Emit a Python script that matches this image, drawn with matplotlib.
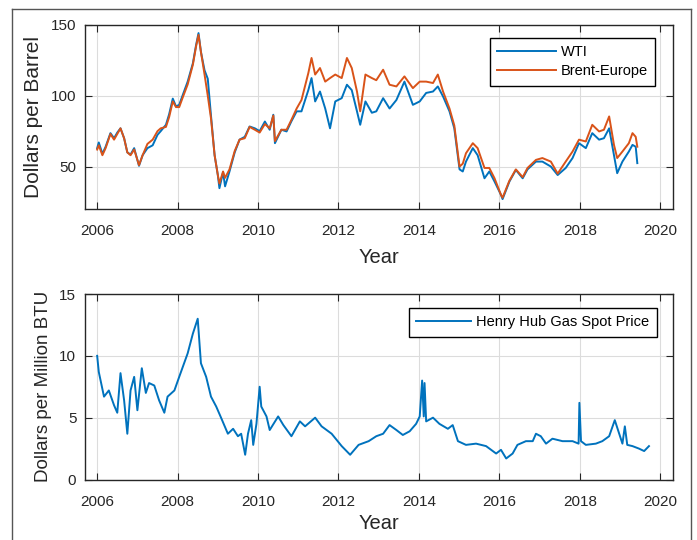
import matplotlib
matplotlib.use("Agg")
import matplotlib.pyplot as plt
from matplotlib.lines import Line2D

plt.rcParams['font.family'] = ['Liberation Sans', 'DejaVu Sans']

# ---------------- data ----------------
oil_year = [2006.00, 2006.04, 2006.13, 2006.21, 2006.33, 2006.42, 2006.50, 2006.58,
            2006.67, 2006.75, 2006.83, 2006.92, 2007.04, 2007.13, 2007.25, 2007.38,
            2007.50, 2007.58, 2007.71, 2007.79, 2007.88, 2007.96, 2008.04, 2008.13,
            2008.25, 2008.38, 2008.46, 2008.52, 2008.58, 2008.67, 2008.75, 2008.83,
            2008.92, 2009.00, 2009.04, 2009.13, 2009.18, 2009.29, 2009.42, 2009.54,
            2009.67, 2009.79, 2009.92, 2010.04, 2010.17, 2010.29, 2010.38, 2010.42,
            2010.58, 2010.71, 2010.83, 2010.96, 2011.08, 2011.25, 2011.33, 2011.42,
            2011.54, 2011.67, 2011.79, 2011.92, 2012.08, 2012.21, 2012.33, 2012.46,
            2012.54, 2012.67, 2012.83, 2012.94, 2013.11, 2013.27, 2013.44, 2013.64,
            2013.85, 2014.02, 2014.18, 2014.35, 2014.47, 2014.60, 2014.76, 2014.88,
            2015.01, 2015.09, 2015.17, 2015.34, 2015.46, 2015.63, 2015.75, 2015.88,
            2016.04, 2016.08, 2016.25, 2016.41, 2016.58, 2016.70, 2016.91, 2017.07,
            2017.28, 2017.45, 2017.65, 2017.82, 2017.98, 2018.15, 2018.31, 2018.48,
            2018.60, 2018.73, 2018.85, 2018.93, 2019.06, 2019.22, 2019.31, 2019.39,
            2019.43]

wti = [63, 67, 59, 64, 73.6, 70, 74, 77,
       70, 60, 58.5, 63, 50.5, 58, 63, 65,
       72.4, 75, 79.5, 87, 98, 92.5, 93.6, 100.7,
       110, 123, 136, 144.3, 131, 118, 112, 86,
       58, 44, 34.7, 46, 36, 46.5, 60, 69,
       71, 78.3, 77, 75, 81.8, 76, 86.6, 66.5,
       76, 74.8, 82, 89, 89, 104, 112.5, 96,
       103, 91, 77, 96, 98.3, 107.8, 104, 89,
       79.5, 96, 88, 89, 98.3, 91, 97, 110,
       93.6, 96, 102, 103, 106.6, 99.5, 89, 77,
       48, 46.5, 53.5, 63, 58, 41.7, 46.5, 39.4,
       30, 27, 39.4, 47.6, 41.7, 48, 53.5, 53.5,
       50, 44, 49, 56, 66.5, 63, 73.6, 69,
       70, 77, 58, 45.3, 53.5, 60.6, 65.3, 64,
       52.4]

brent = [62, 65, 58, 63, 73, 69, 73, 77,
         70, 60, 58, 62, 51, 58, 66, 69,
         75, 77, 78, 85, 96, 92, 92, 99,
         108, 122, 135, 143, 131, 115, 100, 84,
         58, 44, 38, 46.5, 42, 48, 61, 69,
         70, 78, 76, 74, 80, 77, 86, 68,
         76, 76, 83, 91, 97, 116, 126.7, 115,
         119.6, 110, 112.5, 115, 112.5, 126.7, 119.6, 103,
         89, 115, 112.5, 111, 118.4, 107.8, 106.6, 113.7,
         105.4, 110, 110, 109, 115, 103, 91, 79,
         50, 52, 59.4, 66.5, 63, 49, 49, 41.7,
         30, 28, 40, 48, 42.5, 49, 54.7, 56,
         53.5, 45, 53.5, 60.6, 69, 67.7, 79.5, 74.8,
         76, 85.4, 65.3, 56, 60.6, 66.5, 73.6, 71,
         64]

gas_year = [2006.00, 2006.04, 2006.17, 2006.29, 2006.42, 2006.50, 2006.58, 2006.67,
            2006.75, 2006.83, 2006.92, 2007.00, 2007.11, 2007.21, 2007.29, 2007.42,
            2007.54, 2007.67, 2007.75, 2007.92, 2008.04, 2008.25, 2008.38, 2008.50,
            2008.58, 2008.71, 2008.83, 2008.96, 2009.08, 2009.25, 2009.38, 2009.50,
            2009.58, 2009.68, 2009.75, 2009.83, 2009.88, 2009.96, 2010.04, 2010.08,
            2010.21, 2010.29, 2010.50, 2010.63, 2010.83, 2011.04, 2011.17, 2011.42,
            2011.58, 2011.83, 2012.08, 2012.29, 2012.50, 2012.75, 2012.94, 2013.11,
            2013.27, 2013.44, 2013.60, 2013.77, 2013.93, 2014.02, 2014.08, 2014.12,
            2014.14, 2014.18, 2014.35, 2014.51, 2014.72, 2014.84, 2014.97, 2015.17,
            2015.42, 2015.67, 2015.92, 2016.04, 2016.17, 2016.33, 2016.45, 2016.66,
            2016.83, 2016.91, 2017.03, 2017.16, 2017.32, 2017.57, 2017.82, 2017.97,
            2017.99, 2018.03, 2018.15, 2018.40, 2018.56, 2018.73, 2018.87, 2018.98,
            2019.06, 2019.12, 2019.18, 2019.31, 2019.47, 2019.60, 2019.72]

gas = [10.0, 8.7, 6.7, 7.2, 6.0, 5.4, 8.6, 6.4,
       3.7, 7.2, 8.3, 5.6, 9.0, 7.0, 7.8, 7.6,
       6.4, 5.4, 6.7, 7.2, 8.3, 10.2, 11.8, 13.0,
       9.4, 8.3, 6.7, 5.9, 5.0, 3.7, 4.1, 3.5,
       3.7, 2.0, 3.7, 4.8, 2.8, 4.5, 7.5, 5.9,
       5.1, 4.0, 5.1, 4.4, 3.5, 4.7, 4.3, 5.0,
       4.3, 3.7, 2.7, 2.0, 2.8, 3.1, 3.5, 3.7,
       4.4, 4.0, 3.6, 3.9, 4.5, 5.1, 8.0, 5.1,
       7.8, 4.7, 5.0, 4.5, 4.1, 4.4, 3.1, 2.8,
       2.9, 2.7, 2.1, 2.4, 1.7, 2.1, 2.8, 3.1,
       3.1, 3.7, 3.5, 2.9, 3.3, 3.1, 3.1, 2.9,
       6.2, 3.1, 2.8, 2.9, 3.1, 3.5, 4.8, 3.7,
       2.9, 4.3, 2.8, 2.7, 2.5, 2.3, 2.7]

year_ticks = [2006, 2008, 2010, 2012, 2014, 2016, 2018, 2020]

blue = '#0072BD'
orange = '#D95319'
dark = '#262626'

# ---------------- figure ----------------
fig = plt.figure(figsize=(6.97, 5.40), dpi=100)
fig.patch.set_facecolor('white')

# thin frame round the picture
for xs, ys in [([12/697, 12/697], [0, 1 - 9/540]),
               ([12/697, 691/697], [1 - 9/540, 1 - 9/540]),
               ([691/697, 691/697], [1 - 9/540, 0])]:
    fig.add_artist(Line2D(xs, ys, transform=fig.transFigure, color='#555555', lw=1.0))

ax1 = fig.add_axes([84.7/697, 1 - 209/540, 588/697, 184/540])
ax2 = fig.add_axes([84.7/697, 1 - 479.5/540, 588/697, 185.5/540])


def style(ax):
    ax.set_xlim(2005.69, 2020.31)
    ax.set_xticks(year_ticks)
    ax.grid(True, color='#dcdcdc', lw=0.8)
    ax.set_axisbelow(True)
    ax.tick_params(direction='in', length=5, width=0.8, top=True, right=True,
                   labelsize=11, colors=dark, pad=6)
    ax.tick_params(axis='x', pad=11)
    for s in ax.spines.values():
        s.set_color(dark)
        s.set_linewidth(1.0)
    ax.set_xlabel('Year', fontsize=14.5, color=dark)


style(ax1)
ax1.plot(oil_year, wti, color=blue, lw=1.4, label='WTI')
ax1.plot(oil_year, brent, color=orange, lw=1.4, label='Brent-Europe')
ax1.set_ylim(20, 150)
ax1.set_yticks([50, 100, 150])
ax1.set_ylabel('Dollars per Barrel', fontsize=15, color=dark)
ax1.yaxis.set_label_coords(-0.071, 0.5)
ax1.xaxis.set_label_coords(0.5, -0.212)
leg1 = ax1.legend(loc='upper right', bbox_to_anchor=(0.970, 0.929), borderaxespad=0,
                  fancybox=False, edgecolor='black', framealpha=1, fontsize=10.5,
                  handlelength=4.0, handletextpad=0.35, labelspacing=0.35,
                  borderpad=0.5)
leg1.get_frame().set_linewidth(1.0)

style(ax2)
ax2.plot(gas_year, gas, color=blue, lw=1.4, label='Henry Hub Gas Spot Price')
ax2.set_ylim(0, 15)
ax2.set_yticks([0, 5, 10, 15])
ax2.set_ylabel('Dollars per Million BTU', fontsize=13.5, color=dark)
ax2.yaxis.set_label_coords(-0.055, 0.5)
ax2.xaxis.set_label_coords(0.5, -0.186)
leg2 = ax2.legend(loc='upper right', bbox_to_anchor=(0.973, 0.9245), borderaxespad=0,
                  fancybox=False, edgecolor='black', framealpha=1, fontsize=10.5,
                  handlelength=3.8, handletextpad=0.35, borderpad=0.5)
leg2.get_frame().set_linewidth(1.0)

fig.savefig('out.png', dpi=100)
